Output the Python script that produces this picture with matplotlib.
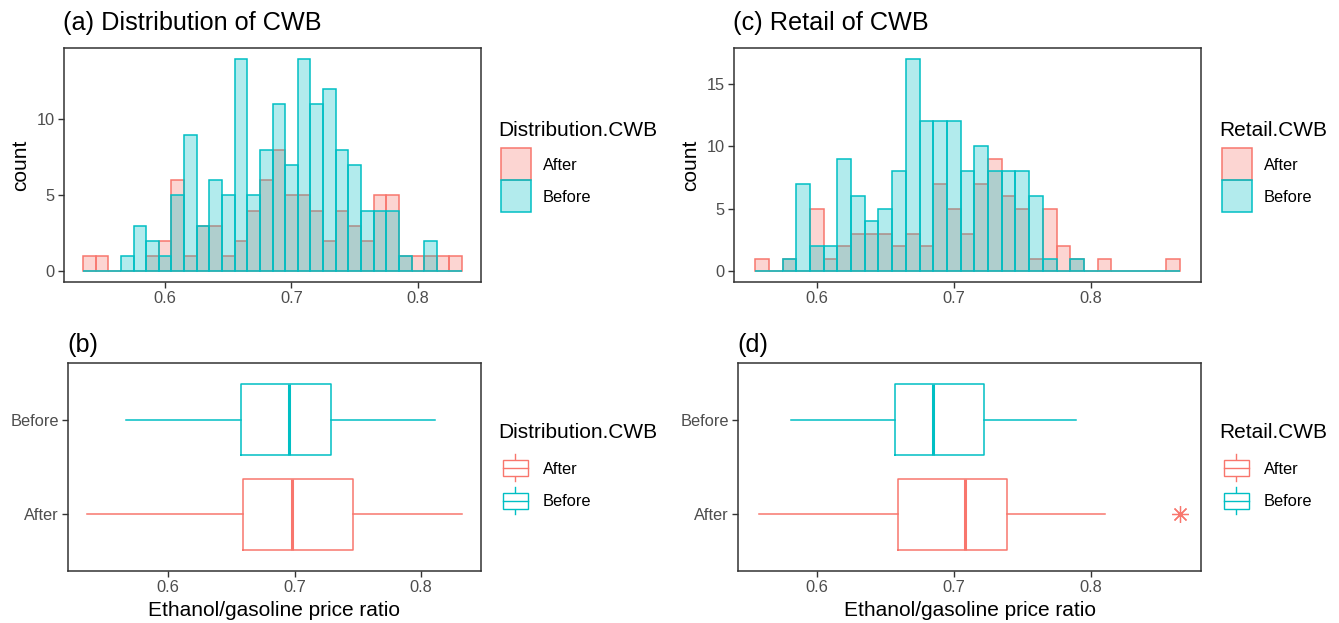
import numpy as np
import matplotlib
matplotlib.use('Agg')
import matplotlib.pyplot as plt
from matplotlib.patches import Rectangle
from matplotlib.lines import Line2D

plt.rcParams['font.family'] = ['Liberation Sans', 'DejaVu Sans']

W, H = 1339, 623
RED = '#F8766D'
TEAL = '#00BFC4'
DARK = '#333333'
TICKC = '#4D4D4D'

groups = ['After', 'Before']

# histogram counts, 0.01 wide bins
dist_bin_start = 0.535
dist_bin_width = 0.01
dist_after = [1, 1, 0, 0, 0, 1, 2, 6, 1, 3, 3, 1, 2, 4, 6, 8, 5, 5, 4, 2, 4, 3, 2, 5, 5, 1, 1, 1, 1, 1]
dist_before = [0, 0, 0, 1, 3, 2, 1, 5, 9, 3, 6, 5, 14, 5, 8, 11, 7, 14, 11, 12, 8, 7, 4, 4, 4, 1, 0, 2, 0, 0]

retail_bin_start = 0.555
retail_bin_width = 0.01
retail_after = [1, 0, 1, 0, 5, 1, 2, 3, 3, 3, 2, 3, 2, 7, 5, 3, 7, 9, 6, 5, 1, 5, 2, 1, 0, 1, 0, 0, 0, 0, 1]
retail_before = [0, 0, 1, 7, 2, 2, 9, 6, 4, 5, 8, 17, 12, 12, 12, 8, 10, 8, 8, 8, 6, 1, 0, 1, 0, 0, 0, 0, 0, 0, 0]

# boxplot stats: whisker low, q1, median, q3, whisker high
dist_box_after = [0.5355, 0.6594, 0.6980, 0.7460, 0.8325]
dist_box_before = [0.5662, 0.6573, 0.6956, 0.7289, 0.8112]
retail_box_after = [0.5579, 0.6591, 0.7083, 0.7384, 0.8102]
retail_box_before = [0.5813, 0.6572, 0.6844, 0.7221, 0.7888]
retail_after_outliers = [0.8647]
dist_after_outliers = []

TITLE_FS = 18.2
LAB_FS = 15
TICK_FS = 11.8

fig = plt.figure(figsize=(W / 100, H / 100), dpi=100)


def px_axes(l, t, r, b):
    return fig.add_axes([l / W, 1 - b / H, (r - l) / W, (b - t) / H])


def style(ax):
    for s in ax.spines.values():
        s.set_color(DARK)
        s.set_linewidth(1.1)
    ax.tick_params(colors=DARK, labelcolor=TICKC, labelsize=TICK_FS,
                   length=4, width=1.0, pad=2.5)
    ax.set_xticks([0.6, 0.7, 0.8])


def histo(ax, start, width, after, before):
    after = np.array(after)
    before = np.array(before)
    edges = start + width * np.arange(len(after))
    ax.bar(edges, after, width=width, align='edge', facecolor=(*matplotlib.colors.to_rgb(RED), 0.3),
           edgecolor=RED, linewidth=1.1)
    ax.bar(edges, before, width=width, align='edge', facecolor=(*matplotlib.colors.to_rgb(TEAL), 0.3),
           edgecolor=TEAL, linewidth=1.1)
    top = max(after.max(), before.max())
    ax.set_ylim(-0.05 * top, 1.05 * top)
    ax.set_ylabel('count', fontsize=LAB_FS)
    ax.yaxis.label.set_va('center')
    style(ax)


def boxes(ax, after, before, after_out):
    stats = []
    for vals, fl in [(after, after_out), (before, [])]:
        stats.append(dict(whislo=vals[0], q1=vals[1], med=vals[2], q3=vals[3],
                          whishi=vals[4], fliers=fl))
    for i, (st, c) in enumerate(zip(stats, [RED, TEAL])):
        ax.bxp([st], positions=[i + 1], widths=0.75, orientation='horizontal',
               showcaps=False,
               boxprops=dict(color=c, linewidth=1.1),
               whiskerprops=dict(color=c, linewidth=1.1),
               medianprops=dict(color=c, linewidth=2.2),
               flierprops=dict(marker=(8, 2, 0), markeredgecolor=c, markersize=12,
                               markeredgewidth=0.9, linestyle='none'))
    ax.set_ylim(0.4, 2.6)
    ax.set_yticks([1, 2])
    ax.set_yticklabels(groups)
    style(ax)
    ax.set_xlabel('Ethanol/gasoline price ratio', fontsize=LAB_FS)


ax_a = px_axes(64, 48, 481, 282)
histo(ax_a, dist_bin_start, dist_bin_width, dist_after, dist_before)
ax_a.set_yticks([0, 5, 10])
ax_a.yaxis.set_label_coords((21 - 64) / 417, 0.5)

ax_c = px_axes(734, 48, 1201, 282)
histo(ax_c, retail_bin_start, retail_bin_width, retail_after, retail_before)
ax_c.set_yticks([0, 5, 10, 15])
ax_c.yaxis.set_label_coords((691 - 734) / 467, 0.5)

ax_b = px_axes(68, 363, 481, 571)
boxes(ax_b, dist_box_after, dist_box_before, dist_after_outliers)
ax_b.xaxis.set_label_coords(0.5, -(611 - 571) / 208)
ax_b.xaxis.label.set_va('center')

ax_d = px_axes(738, 363, 1201, 571)
boxes(ax_d, retail_box_after, retail_box_before, retail_after_outliers)
ax_d.xaxis.set_label_coords(0.5, -(611 - 571) / 208)
ax_d.xaxis.label.set_va('center')

# overlay in pixel coordinates for titles and legends
ov = fig.add_axes([0, 0, 1, 1], zorder=10)
ov.set_xlim(0, W)
ov.set_ylim(H, 0)
ov.axis('off')
ov.patch.set_alpha(0)

ov.text(63, 23, '(a) Distribution of CWB', fontsize=TITLE_FS, va='center', ha='left')
ov.text(733, 23, '(c) Retail of CWB', fontsize=TITLE_FS, va='center', ha='left')
ov.text(67, 345, '(b)', fontsize=TITLE_FS, va='center', ha='left')
ov.text(737, 345, '(d)', fontsize=TITLE_FS, va='center', ha='left')


def hist_legend(x, y, title):
    ov.text(x - 3, y, title, fontsize=LAB_FS, va='center', ha='left')
    for k, (g, c) in enumerate(zip(groups, [RED, TEAL])):
        top = y + 18 + 32 * k
        ov.add_patch(Rectangle((x, top), 30, 32, facecolor=(*matplotlib.colors.to_rgb(c), 0.3),
                               edgecolor=c, linewidth=1.1))
        ov.text(x + 42, top + 17, g, fontsize=TICK_FS, va='center', ha='left')


def box_legend(x, y, title):
    ov.text(x - 3, y, title, fontsize=LAB_FS, va='center', ha='left')
    for k, (g, c) in enumerate(zip(groups, [RED, TEAL])):
        cy = y + 36 + 33 * k
        ov.add_line(Line2D([x + 14, x + 14], [cy - 14, cy + 13], color=c, lw=1.0, zorder=1))
        ov.add_patch(Rectangle((x + 2, cy - 8), 25, 16, facecolor='white', edgecolor=c,
                               linewidth=1.0, zorder=2))
        ov.add_line(Line2D([x + 2, x + 27], [cy, cy], color=c, lw=1.0, zorder=3))
        ov.text(x + 42, cy + 1, g, fontsize=TICK_FS, va='center', ha='left')


hist_legend(501, 130, 'Distribution.CWB')
hist_legend(1222, 130, 'Retail.CWB')
box_legend(501, 432, 'Distribution.CWB')
box_legend(1222, 432, 'Retail.CWB')

fig.savefig('out.png', dpi=100)
